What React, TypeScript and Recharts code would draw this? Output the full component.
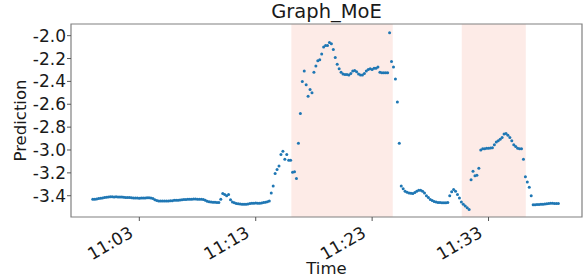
import { ScatterChart, Scatter, XAxis, YAxis, ReferenceArea } from 'recharts';

// minutes after 11:00, one sample every 10 s starting at 10:59:00
const START_MIN = -1;
const STEP_MIN = 1 / 6;

const PREDICTION = [
  -3.43, -3.43, -3.428, -3.425, -3.423, -3.42, -3.416, -3.413, -3.41, -3.408,
  -3.408, -3.41, -3.408, -3.41, -3.41, -3.412, -3.414, -3.415, -3.415, -3.416,
  -3.418, -3.42, -3.42, -3.42, -3.422, -3.42, -3.42, -3.42, -3.418, -3.418,
  -3.42, -3.425, -3.435, -3.442, -3.445, -3.447, -3.445, -3.445, -3.446, -3.445,
  -3.444, -3.443, -3.44, -3.44, -3.44, -3.438, -3.436, -3.434, -3.432, -3.43,
  -3.43, -3.43, -3.428, -3.428, -3.43, -3.43, -3.43, -3.432, -3.44, -3.448,
  -3.452, -3.455, -3.457, -3.458, -3.46, -3.46,
  -3.43, -3.38, -3.39, -3.4, -3.39, -3.435,
  -3.455, -3.462, -3.468, -3.47, -3.472, -3.475, -3.475, -3.474, -3.472, -3.468,
  -3.465, -3.465, -3.463, -3.465, -3.466, -3.463, -3.46, -3.456, -3.452, -3.445,
  -3.375, -3.315, -3.205, -3.17, -3.14, -3.04, -3.01, -3.08, -3.04, -3.09,
  -3.09, -3.195, -3.19, -3.25, -2.94, -2.68, -2.4, -2.31, -2.43, -2.53,
  -2.47, -2.5, -2.32, -2.265, -2.22, -2.21, -2.16, -2.1, -2.085, -2.085,
  -2.06, -2.07,
  -2.12, -2.19, -2.25, -2.29, -2.32, -2.335, -2.34, -2.34, -2.345, -2.33,
  -2.31, -2.305, -2.315, -2.335, -2.345, -2.345, -2.33, -2.31, -2.295, -2.29,
  -2.295, -2.285, -2.285, -2.275, -2.32, -2.325, -2.325, -2.325, -2.325, -1.975,
  -2.225, -2.275, -2.38, -2.58, -2.94,
  -3.315, -3.34, -3.36, -3.37, -3.375, -3.378, -3.38, -3.372, -3.36, -3.352,
  -3.352, -3.36, -3.375, -3.4, -3.415, -3.432, -3.442, -3.45, -3.455, -3.46,
  -3.46, -3.462, -3.462, -3.462, -3.46, -3.4, -3.365, -3.345, -3.36, -3.39,
  -3.42, -3.455, -3.475, -3.49, -3.505, -3.52,
  -3.26, -3.185, -3.225, -3.22, -3.16, -3.0, -2.99, -2.988, -2.985, -2.985,
  -2.983, -2.98, -2.955, -2.93, -2.92, -2.905, -2.89, -2.86, -2.855, -2.87,
  -2.89, -2.92, -2.955, -2.97, -2.985, -2.99, -2.99, -3.08, -3.235, -3.28,
  -3.325, -3.4,
  -3.478, -3.478, -3.477, -3.476, -3.475, -3.474, -3.472, -3.47, -3.468, -3.466,
  -3.466, -3.467, -3.468, -3.468,
];

// highlighted windows, minutes after 11:00
const SPAN_START = [16.06, 30.7];
const SPAN_END = [24.77, 36.2];

const X_TICKS = [3, 13, 23, 33];
const Y_TICKS = [-3.4, -3.2, -3.0, -2.8, -2.6, -2.4, -2.2, -2.0];
const X_DOMAIN: [number, number] = [-2.87, 41.03];
const Y_DOMAIN: [number, number] = [-3.586, -1.898];

const FONT = '"DejaVu Sans", sans-serif';
const TICK_SIZE = 17;

const data = PREDICTION.map((v, i) => ({ t: START_MIN + i * STEP_MIN, v }));

const fmtTime = (m: number) => {
  const h = 11 + Math.floor(m / 60);
  const mm = Math.round(m) % 60;
  return `${h}:${String(mm).padStart(2, '0')}`;
};

function TimeTick(props: any) {
  const { x, y, payload } = props;
  return (
    <text
      transform={`translate(${x - 5},${y + 13}) rotate(-30)`}
      textAnchor="end"
      fontSize={TICK_SIZE}
      fontFamily={FONT}
      fill="#1a1a1a"
    >
      {fmtTime(payload.value)}
    </text>
  );
}

function Dot(props: any) {
  return <circle cx={props.cx} cy={props.cy} r={1.5} fill="#1f77b4" />;
}

export default function App() {
  return (
    <div style={{ position: 'absolute', left: 0, top: 0, width: 588, height: 279, background: '#fff' }}>
      <div
        style={{
          position: 'absolute', left: 71, top: 2, width: 511, textAlign: 'center',
          fontFamily: FONT, fontSize: 19.5, lineHeight: '19px', color: '#1a1a1a',
        }}
      >
        Graph_MoE
      </div>
      <ScatterChart width={588} height={279} margin={{ top: 24, right: 6, bottom: 0, left: 0 }}>
        {SPAN_START.map((s, i) => (
          <ReferenceArea key={i} x1={s} x2={SPAN_END[i]} fill="#fdebe7" fillOpacity={1} stroke="none" ifOverflow="hidden" />
        ))}
        <XAxis
          type="number"
          dataKey="t"
          domain={X_DOMAIN}
          ticks={X_TICKS}
          interval={0}
          allowDataOverflow
          height={62}
          tickSize={4}
          tick={<TimeTick />}
          axisLine={false}
          tickLine={{ stroke: '#555' }}
          label={(p: any) => {
            const vb = p.viewBox;
            return (
              <text x={vb.x + vb.width / 2} y={vb.y + 57} textAnchor="middle" fontSize={16.5} fontFamily={FONT} fill="#1a1a1a">
                Time
              </text>
            );
          }}
        />
        <YAxis
          type="number"
          dataKey="v"
          domain={Y_DOMAIN}
          ticks={Y_TICKS}
          interval={0}
          allowDataOverflow
          width={71}
          tickSize={4}
          tickMargin={1}
          axisLine={false}
          tickLine={{ stroke: '#555' }}
          tick={{ fontSize: TICK_SIZE, fontFamily: FONT, fill: '#1a1a1a' }}
          tickFormatter={(v: number) => v.toFixed(1)}
          label={(p: any) => {
            const vb = p.viewBox;
            const cy = vb.y + vb.height / 2;
            return (
              <text x={26} y={cy} transform={`rotate(-90, 26, ${cy})`} textAnchor="middle" fontSize={16.5} fontFamily={FONT} fill="#1a1a1a">
                Prediction
              </text>
            );
          }}
        />
        <Scatter data={data} shape={<Dot />} isAnimationActive={false} />
        <ReferenceArea
          x1={X_DOMAIN[0]}
          x2={X_DOMAIN[1]}
          y1={Y_DOMAIN[0]}
          y2={Y_DOMAIN[1]}
          fill="none"
          stroke="#808080"
          strokeWidth={1.2}
        />
      </ScatterChart>
    </div>
  );
}
